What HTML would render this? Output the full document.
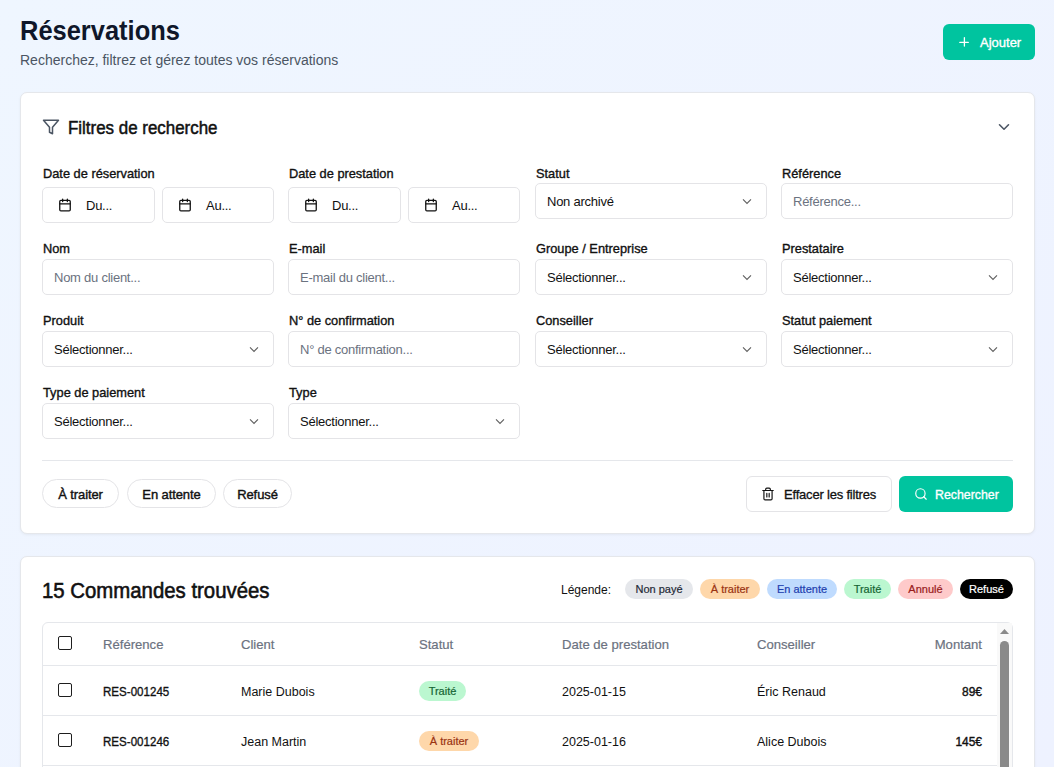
<!DOCTYPE html>
<html lang="fr">
<head>
<meta charset="utf-8">
<title>Réservations</title>
<style>
*{box-sizing:border-box;margin:0;padding:0}
html,body{width:1054px;height:767px;overflow:hidden}
body{font-family:"Liberation Sans",sans-serif;color:#111827;background:linear-gradient(135deg,#eff6ff 0%,#eef2ff 100%);position:relative}
.a{position:absolute}
.t{position:absolute;line-height:1;white-space:nowrap}
.card{position:absolute;left:20px;width:1015px;background:#fff;border:1px solid #e5e7eb;border-radius:7px;box-shadow:0 1px 3px rgba(0,0,0,.05)}
.lbl{font-size:12.8px;color:#111;-webkit-text-stroke:0.35px currentColor}
.inp{position:absolute;border:1px solid #e4e4e7;border-radius:5px;background:#fff}
.v{font-size:13px;color:#111;letter-spacing:-0.25px}
.ph{color:#6b7280}
.pill{position:absolute;height:29px;border:1px solid #e4e4e7;border-radius:15px;background:#fff}
.badge{position:absolute;height:20px;border-radius:10px;font-size:11px;line-height:20px;text-align:center;white-space:nowrap;-webkit-text-stroke:0.2px currentColor}
.th{font-size:13.1px;color:#6b7280;-webkit-text-stroke:0.2px currentColor}
.td{font-size:12.5px;color:#111}
.cb{position:absolute;width:14px;height:14px;border:1.5px solid #1e1e1e;border-radius:2px;background:#fff}
.hr{position:absolute;height:1px;background:#e5e7eb}
.sb{-webkit-text-stroke:0.35px currentColor}
</style>
</head>
<body>

<div class="t" style="left:20px;top:18px;font-size:27px;font-weight:700;transform:scaleX(0.943);transform-origin:0 0;color:#0f172a">Réservations</div>
<div class="t" style="left:20px;top:53px;font-size:14px;color:#4b5563">Recherchez, filtrez et gérez toutes vos réservations</div>
<div class="a" style="left:943px;top:24px;width:92px;height:36px;background:#00c49f;border-radius:6px"></div>
<svg class="a" style="left:955px;top:34px" width="18" height="16" viewBox="0 0 18 16"><rect x="4.2" y="7.7" width="9.7" height="1.3" rx="0.6" fill="#fff"/><rect x="8.75" y="3.1" width="1.3" height="9.6" rx="0.6" fill="#fff"/></svg>
<div class="t" style="left:980px;top:36px;font-size:13px;-webkit-text-stroke:0.35px #fff;color:#fff">Ajouter</div>
<div class="card" style="top:92px;height:442px"></div>
<svg class="a" style="left:42px;top:118px" width="18" height="18" viewBox="0 0 24 24" fill="none" stroke="#4b5563" stroke-width="2" stroke-linejoin="round"><polygon points="22 3 2 3 10 12.46 10 19 14 21 14 12.46 22 3"/></svg>
<div class="t" style="left:68px;top:119px;font-size:18px;transform:scaleX(0.94);transform-origin:0 0;-webkit-text-stroke:0.5px #111;color:#111">Filtres de recherche</div>
<svg class="a" style="left:995px;top:118px" width="18" height="18" viewBox="0 0 24 24" fill="none" stroke="#4b5563" stroke-width="2.1" stroke-linecap="round" stroke-linejoin="round"><path d="m6 9 6 6 6-6"/></svg>
<div class="t lbl" style="left:43px;top:168px">Date de réservation</div>
<div class="t lbl" style="left:289px;top:168px">Date de prestation</div>
<div class="t lbl" style="left:536px;top:168px">Statut</div>
<div class="t lbl" style="left:782px;top:168px">Référence</div>
<div class="inp" style="left:42px;top:187px;width:113px;height:36px"></div>
<svg class="a" style="left:58px;top:198px" width="14" height="14" viewBox="0 0 24 24" fill="none" stroke="#111111" stroke-width="2.2" stroke-linecap="round" stroke-linejoin="round"><rect x="3" y="4" width="18" height="18" rx="2"/><path d="M16 2v4M8 2v4M3 10h18"/></svg>
<div class="t v" style="left:86px;top:199px">Du...</div>
<div class="inp" style="left:162px;top:187px;width:112px;height:36px"></div>
<svg class="a" style="left:178px;top:198px" width="14" height="14" viewBox="0 0 24 24" fill="none" stroke="#111111" stroke-width="2.2" stroke-linecap="round" stroke-linejoin="round"><rect x="3" y="4" width="18" height="18" rx="2"/><path d="M16 2v4M8 2v4M3 10h18"/></svg>
<div class="t v" style="left:206px;top:199px">Au...</div>
<div class="inp" style="left:288px;top:187px;width:113px;height:36px"></div>
<svg class="a" style="left:304px;top:198px" width="14" height="14" viewBox="0 0 24 24" fill="none" stroke="#111111" stroke-width="2.2" stroke-linecap="round" stroke-linejoin="round"><rect x="3" y="4" width="18" height="18" rx="2"/><path d="M16 2v4M8 2v4M3 10h18"/></svg>
<div class="t v" style="left:332px;top:199px">Du...</div>
<div class="inp" style="left:408px;top:187px;width:112px;height:36px"></div>
<svg class="a" style="left:424px;top:198px" width="14" height="14" viewBox="0 0 24 24" fill="none" stroke="#111111" stroke-width="2.2" stroke-linecap="round" stroke-linejoin="round"><rect x="3" y="4" width="18" height="18" rx="2"/><path d="M16 2v4M8 2v4M3 10h18"/></svg>
<div class="t v" style="left:452px;top:199px">Au...</div>
<div class="inp" style="left:535px;top:183px;width:232px;height:36px"></div>
<div class="t v" style="left:547px;top:195px">Non archivé</div>
<svg class="a" style="left:742px;top:198px" width="10" height="7" viewBox="0 0 10 7" fill="none" stroke="#5f5f5f" stroke-width="1.1"><path d="M1 1.4l4 4 4-4"/></svg>
<div class="inp" style="left:781px;top:183px;width:232px;height:36px"></div>
<div class="t v ph" style="left:793px;top:195px">Référence...</div>
<div class="t lbl" style="left:43px;top:243px">Nom</div>
<div class="t lbl" style="left:289px;top:243px">E-mail</div>
<div class="t lbl" style="left:536px;top:243px">Groupe / Entreprise</div>
<div class="t lbl" style="left:782px;top:243px">Prestataire</div>
<div class="inp" style="left:42px;top:259px;width:232px;height:36px"></div>
<div class="t v ph" style="left:54px;top:271px">Nom du client...</div>
<div class="inp" style="left:288px;top:259px;width:232px;height:36px"></div>
<div class="t v ph" style="left:300px;top:271px">E-mail du client...</div>
<div class="inp" style="left:535px;top:259px;width:232px;height:36px"></div>
<div class="t v" style="left:547px;top:271px">Sélectionner...</div>
<svg class="a" style="left:742px;top:274px" width="10" height="7" viewBox="0 0 10 7" fill="none" stroke="#5f5f5f" stroke-width="1.1"><path d="M1 1.4l4 4 4-4"/></svg>
<div class="inp" style="left:781px;top:259px;width:232px;height:36px"></div>
<div class="t v" style="left:793px;top:271px">Sélectionner...</div>
<svg class="a" style="left:988px;top:274px" width="10" height="7" viewBox="0 0 10 7" fill="none" stroke="#5f5f5f" stroke-width="1.1"><path d="M1 1.4l4 4 4-4"/></svg>
<div class="t lbl" style="left:43px;top:315px">Produit</div>
<div class="t lbl" style="left:289px;top:315px">N° de confirmation</div>
<div class="t lbl" style="left:536px;top:315px">Conseiller</div>
<div class="t lbl" style="left:782px;top:315px">Statut paiement</div>
<div class="inp" style="left:42px;top:331px;width:232px;height:36px"></div>
<div class="t v" style="left:54px;top:343px">Sélectionner...</div>
<svg class="a" style="left:249px;top:346px" width="10" height="7" viewBox="0 0 10 7" fill="none" stroke="#5f5f5f" stroke-width="1.1"><path d="M1 1.4l4 4 4-4"/></svg>
<div class="inp" style="left:288px;top:331px;width:232px;height:36px"></div>
<div class="t v ph" style="left:300px;top:343px">N° de confirmation...</div>
<div class="inp" style="left:535px;top:331px;width:232px;height:36px"></div>
<div class="t v" style="left:547px;top:343px">Sélectionner...</div>
<svg class="a" style="left:742px;top:346px" width="10" height="7" viewBox="0 0 10 7" fill="none" stroke="#5f5f5f" stroke-width="1.1"><path d="M1 1.4l4 4 4-4"/></svg>
<div class="inp" style="left:781px;top:331px;width:232px;height:36px"></div>
<div class="t v" style="left:793px;top:343px">Sélectionner...</div>
<svg class="a" style="left:988px;top:346px" width="10" height="7" viewBox="0 0 10 7" fill="none" stroke="#5f5f5f" stroke-width="1.1"><path d="M1 1.4l4 4 4-4"/></svg>
<div class="t lbl" style="left:43px;top:387px">Type de paiement</div>
<div class="t lbl" style="left:289px;top:387px">Type</div>
<div class="inp" style="left:42px;top:403px;width:232px;height:36px"></div>
<div class="t v" style="left:54px;top:415px">Sélectionner...</div>
<svg class="a" style="left:249px;top:418px" width="10" height="7" viewBox="0 0 10 7" fill="none" stroke="#5f5f5f" stroke-width="1.1"><path d="M1 1.4l4 4 4-4"/></svg>
<div class="inp" style="left:288px;top:403px;width:232px;height:36px"></div>
<div class="t v" style="left:300px;top:415px">Sélectionner...</div>
<svg class="a" style="left:495px;top:418px" width="10" height="7" viewBox="0 0 10 7" fill="none" stroke="#5f5f5f" stroke-width="1.1"><path d="M1 1.4l4 4 4-4"/></svg>
<div class="hr" style="left:42px;top:460px;width:971px"></div>
<div class="pill" style="left:42px;top:479px;width:77px"></div>
<div class="t" style="left:42px;top:488px;width:77px;text-align:center;font-size:13px;color:#111;-webkit-text-stroke:0.4px #111;letter-spacing:-0.1px">À traiter</div>
<div class="pill" style="left:127px;top:479px;width:89px"></div>
<div class="t" style="left:127px;top:488px;width:89px;text-align:center;font-size:13px;color:#111;-webkit-text-stroke:0.4px #111;letter-spacing:-0.1px">En attente</div>
<div class="pill" style="left:223px;top:479px;width:69px"></div>
<div class="t" style="left:223px;top:488px;width:69px;text-align:center;font-size:13px;color:#111;-webkit-text-stroke:0.4px #111;letter-spacing:-0.1px">Refusé</div>
<div class="a" style="left:746px;top:476px;width:146px;height:36px;border:1px solid #e4e4e7;border-radius:6px;background:#fff"></div>
<svg class="a" style="left:761px;top:487px" width="14" height="14" viewBox="0 0 24 24" fill="none" stroke="#111111" stroke-width="2" stroke-linecap="round" stroke-linejoin="round"><path d="M3 6h18M19 6v14c0 1-1 2-2 2H7c-1 0-2-1-2-2V6M8 6V4c0-1 1-2 2-2h4c1 0 2 1 2 2v2M10 11v6M14 11v6"/></svg>
<div class="t" style="left:784px;top:488px;font-size:13px;letter-spacing:-0.2px;-webkit-text-stroke:0.3px #111;color:#111">Effacer les filtres</div>
<div class="a" style="left:899px;top:476px;width:114px;height:36px;background:#00c49f;border-radius:6px"></div>
<svg class="a" style="left:914px;top:487px" width="14" height="14" viewBox="0 0 24 24" fill="none" stroke="#fff" stroke-width="2" stroke-linecap="round" stroke-linejoin="round"><circle cx="11" cy="11" r="8"/><path d="m21 21-4.3-4.3"/></svg>
<div class="t" style="left:935px;top:488px;font-size:13px;transform:scaleX(0.95);transform-origin:0 0;-webkit-text-stroke:0.35px #fff;color:#fff">Rechercher</div>
<div class="card" style="top:556px;height:260px"></div>
<div class="t" style="left:42px;top:580px;font-size:22.5px;transform:scaleX(0.905);transform-origin:0 0;-webkit-text-stroke:0.6px #111;color:#111">15 Commandes trouvées</div>
<div class="t" style="left:561px;top:584px;font-size:12px;color:#111">Légende:</div>
<div class="badge" style="left:625px;top:579px;width:68px;background:#e5e7eb;color:#1f2937">Non payé</div>
<div class="badge" style="left:700px;top:579px;width:60px;background:#fed7aa;color:#9a3412">À traiter</div>
<div class="badge" style="left:767px;top:579px;width:70px;background:#bfdbfe;color:#1e40af">En attente</div>
<div class="badge" style="left:844px;top:579px;width:47px;background:#bbf7d0;color:#166534">Traité</div>
<div class="badge" style="left:898px;top:579px;width:55px;background:#fecaca;color:#991b1b">Annulé</div>
<div class="badge" style="left:960px;top:579px;width:53px;background:#000000;color:#ffffff">Refusé</div>
<div class="a" style="left:42px;top:622px;width:971px;height:200px;border:1px solid #e5e7eb;border-radius:6px;background:#fff"></div>
<div class="a" style="left:997px;top:623px;width:15px;height:150px;background:#f9f9f9"></div>
<svg class="a" style="left:1000px;top:629px" width="9" height="5" viewBox="0 0 9 5"><path d="M0 5L4.5 0L9 5z" fill="#8a8a8a"/></svg>
<div class="a" style="left:1000px;top:641px;width:9px;height:140px;background:#8a8a8a;border-radius:4.5px 4.5px 0 0"></div>
<div class="cb" style="left:58px;top:636px"></div>
<div class="t th" style="left:103px;top:638px">Référence</div>
<div class="t th" style="left:241px;top:638px">Client</div>
<div class="t th" style="left:419px;top:638px">Statut</div>
<div class="t th" style="left:562px;top:638px">Date de prestation</div>
<div class="t th" style="left:757px;top:638px">Conseiller</div>
<div class="t th" style="left:882px;top:638px;width:100px;text-align:right">Montant</div>
<div class="hr" style="left:43px;top:665px;width:954px"></div>
<div class="cb" style="left:58px;top:683px"></div>
<div class="t td" style="left:103px;top:685px;font-size:13px;transform:scaleX(0.89);transform-origin:0 0;-webkit-text-stroke:0.35px #111">RES-001245</div>
<div class="t td" style="left:241px;top:686px">Marie Dubois</div>
<div class="badge" style="left:419px;top:681px;width:47px;background:#bbf7d0;color:#166534">Traité</div>
<div class="t td" style="left:562px;top:686px">2025-01-15</div>
<div class="t td" style="left:757px;top:686px">Éric Renaud</div>
<div class="t td" style="left:882px;top:685px;width:100px;text-align:right;font-size:13px;transform:scaleX(0.92);transform-origin:100% 0;-webkit-text-stroke:0.4px #111">89€</div>
<div class="hr" style="left:43px;top:715px;width:954px"></div>
<div class="cb" style="left:58px;top:733px"></div>
<div class="t td" style="left:103px;top:735px;font-size:13px;transform:scaleX(0.89);transform-origin:0 0;-webkit-text-stroke:0.35px #111">RES-001246</div>
<div class="t td" style="left:241px;top:736px">Jean Martin</div>
<div class="badge" style="left:419px;top:731px;width:60px;background:#fed7aa;color:#9a3412">À traiter</div>
<div class="t td" style="left:562px;top:736px">2025-01-16</div>
<div class="t td" style="left:757px;top:736px">Alice Dubois</div>
<div class="t td" style="left:882px;top:735px;width:100px;text-align:right;font-size:13px;transform:scaleX(0.92);transform-origin:100% 0;-webkit-text-stroke:0.4px #111">145€</div>
<div class="hr" style="left:43px;top:765px;width:954px"></div>
</body>
</html>
